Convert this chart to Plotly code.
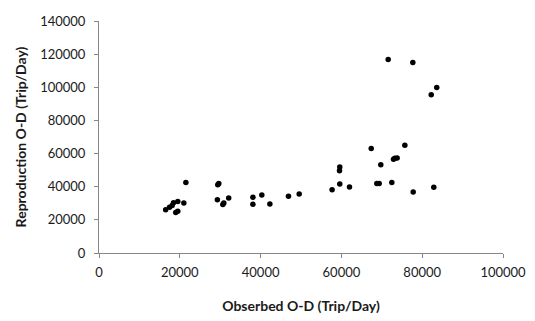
import plotly.graph_objects as go

observed = [16500, 17450, 18100, 18440, 19500, 19000, 19500, 21000, 21500,
            29400, 29650, 29300, 30650, 30900, 32100, 38100, 38100, 40300, 42300,
            46900, 49550, 57700, 59600, 59530, 59600, 62000, 67380, 68770, 69350,
            69750, 72480, 72900, 73220, 73800, 75700, 77770, 82870,
            71580, 77680, 83600, 82230]
reproduction = [26070, 27600, 28600, 30300, 31100, 24500, 25200, 30150, 42600,
                41200, 42000, 32100, 29300, 30150, 33250, 33650, 29350, 35000, 29500,
                34200, 35600, 38100, 41600, 49600, 51900, 39850, 63000, 42000, 42000,
                53300, 42600, 56600, 57200, 57400, 64950, 36750, 39700,
                116700, 114900, 99900, 95500]

x_ticks = [0, 20000, 40000, 60000, 80000, 100000]
y_ticks = [0, 20000, 40000, 60000, 80000, 100000, 120000, 140000]

fig = go.Figure(go.Scatter(
    x=observed, y=reproduction, mode="markers",
    marker=dict(color="black", size=5.5),
    cliponaxis=False,
))

axis_common = dict(
    showgrid=False, zeroline=False, showline=True, linecolor="#868686",
    linewidth=1, ticks="outside", tickcolor="#868686", ticklen=4,
    tickfont=dict(family="Lato", size=13, color="#1a1a1a"),
    ticklabeloverflow="allow",
)
fig.update_xaxes(range=[0, 100000], tickvals=x_ticks, tickformat="d",
                 ticklabelstandoff=3,
                 title=dict(text="<b>Obserbed O-D (Trip/Day)</b>",
                            font=dict(family="Lato", size=14, color="#1a1a1a"),
                            standoff=22),
                 **axis_common)
fig.update_yaxes(range=[0, 140000], tickvals=y_ticks, tickformat="d",
                 ticklabelstandoff=6,
                 title=dict(text="<b>Reproduction O-D (Trip/Day)</b>",
                            font=dict(family="Lato", size=14, color="#1a1a1a"),
                            standoff=10),
                 **axis_common)
fig.update_layout(
    width=527, height=313,
    margin=dict(l=91, r=32, t=5, b=68),
    plot_bgcolor="white", paper_bgcolor="white",
    showlegend=False,
)
fig.write_html("out.html")
